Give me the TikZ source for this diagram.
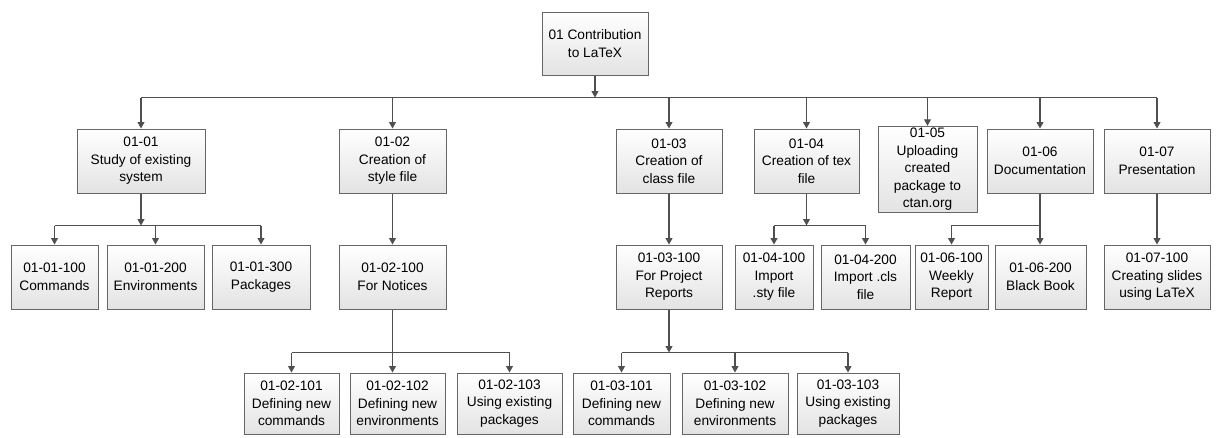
\documentclass[tikz,border=0pt]{standalone}
\usepackage{fontspec}
\setmainfont{Liberation Sans}
\usepackage{tikz}
\usetikzlibrary{arrows.meta}

\tikzset{
  wbs/.style={draw=gray!80!black, line width=1pt, top color=white, bottom color=gray!22,
    align=center, inner sep=2pt, minimum height=64pt, font=\fontsize{13.7}{17.5}\selectfont},
  link/.style={draw=gray!62!black, line width=1.1pt},
  arr/.style={link, -{Triangle[length=6.5pt,width=7pt]}}
}

\begin{document}
\begin{tikzpicture}[x=1pt, y=-1pt]
\useasboundingbox (0,0) rectangle (1218,437);

\node[wbs, minimum width=106pt, minimum height=63pt] (top) at (595,43.5) {01 Contribution\\to LaTeX};

\node[wbs, minimum width=128pt] (n0101) at (141,161) {01-01\\Study of existing\\system};
\node[wbs, minimum width=107pt] (n0102) at (392.5,161) {01-02\\Creation of\\style file};
\node[wbs, minimum width=106pt] (n0103) at (669,161) {01-03\\Creation of\\class file};
\node[wbs, minimum width=105pt] (n0104) at (806.5,161) {01-04\\Creation of tex\\file};
\node[wbs, minimum width=99pt, minimum height=85pt] (n0105) at (927.5,169.5) {01-05\\Uploading\\created\\package to\\ctan.org};
\node[wbs, minimum width=106pt] (n0106) at (1040,161) {01-06\\Documentation};
\node[wbs, minimum width=106pt] (n0107) at (1157,161) {01-07\\Presentation};

\node[wbs, minimum width=87pt] (n0101100) at (54.5,277) {01-01-100\\Commands};
\node[wbs, minimum width=97pt] (n0101200) at (155.5,277) {01-01-200\\Environments};
\node[wbs, minimum width=98pt] (n0101300) at (261,277) {01-01-300\\Packages};
\node[wbs, minimum width=107pt] (n0102100) at (392.5,277) {01-02-100\\For Notices};
\node[wbs, minimum width=106pt] (n0103100) at (669,277) {01-03-100\\For Project\\Reports};
\node[wbs, minimum width=78pt] (n0104100) at (774,277) {01-04-100\\Import\\.sty file};
\node[wbs, minimum width=89pt] (n0104200) at (865.5,277) {01-04-200\\Import .cls\\file};
\node[wbs, minimum width=73pt] (n0106100) at (951.5,277) {01-06-100\\Weekly\\Report};
\node[wbs, minimum width=91pt] (n0106200) at (1040.5,277) {01-06-200\\Black Book};
\node[wbs, minimum width=106pt] (n0107100) at (1157,277) {01-07-100\\Creating slides\\using LaTeX};

\node[wbs, minimum width=95pt, minimum height=61pt] (n0102101) at (291.5,403.5) {01-02-101\\Defining new\\commands};
\node[wbs, minimum width=95pt, minimum height=61pt] (n0102102) at (397.5,403.5) {01-02-102\\Defining new\\environments};
\node[wbs, minimum width=105pt, minimum height=61pt] (n0102103) at (509.5,403.5) {01-02-103\\Using existing\\packages};
\node[wbs, minimum width=97pt, minimum height=61pt] (n0103101) at (621.5,403.5) {01-03-101\\Defining new\\commands};
\node[wbs, minimum width=106pt, minimum height=61pt] (n0103102) at (735,403.5) {01-03-102\\Defining new\\environments};
\node[wbs, minimum width=102pt, minimum height=61pt] (n0103103) at (848,403.5) {01-03-103\\Using existing\\packages};

\coordinate (j0) at (595,97.5);
\coordinate (j1) at (141,225.5);
\coordinate (j2) at (392.5,352.5);
\coordinate (j3) at (669,352.5);
\coordinate (j4) at (806.5,225.5);
\coordinate (j6) at (1040,225.5);

\draw[link] (n0101 |- j0) -- (n0107 |- j0);
\draw[arr] (top) -- (j0);
\draw[arr] (n0101 |- j0) -- (n0101);
\draw[arr] (n0102 |- j0) -- (n0102);
\draw[arr] (n0103 |- j0) -- (n0103);
\draw[arr] (n0104 |- j0) -- (n0104);
\draw[arr] (n0105 |- j0) -- (n0105);
\draw[arr] (n0106 |- j0) -- (n0106);
\draw[arr] (n0107 |- j0) -- (n0107);

\draw[link] (n0101100 |- j1) -- (n0101300 |- j1);
\draw[arr] (n0101) -- (j1);
\draw[arr] (n0101100 |- j1) -- (n0101100);
\draw[arr] (n0101200 |- j1) -- (n0101200);
\draw[arr] (n0101300 |- j1) -- (n0101300);

\draw[arr] (n0102) -- (n0102100);
\draw[link] (n0102100) -- (j2);
\draw[link] (n0102101 |- j2) -- (n0102103 |- j2);
\draw[arr] (j2) -- (j2 |- n0102102.north);
\draw[arr] (n0102101 |- j2) -- (n0102101);
\draw[arr] (n0102103 |- j2) -- (n0102103);

\draw[arr] (n0103) -- (n0103100);
\draw[link] (n0103101 |- j3) -- (n0103103 |- j3);
\draw[arr] (n0103100) -- (j3);
\draw[arr] (n0103101 |- j3) -- (n0103101);
\draw[arr] (n0103102 |- j3) -- (n0103102);
\draw[arr] (n0103103 |- j3) -- (n0103103);

\draw[link] (n0104100 |- j4) -- (n0104200 |- j4);
\draw[arr] (n0104) -- (j4);
\draw[arr] (n0104100 |- j4) -- (n0104100);
\draw[arr] (n0104200 |- j4) -- (n0104200);

\draw[link] (n0106) -- (j6);
\draw[arr] (j6) -- (j6 |- n0106200.north);
\draw[arr] (j6) -| (n0106100);

\draw[arr] (n0107) -- (n0107100);
\end{tikzpicture}
\end{document}
